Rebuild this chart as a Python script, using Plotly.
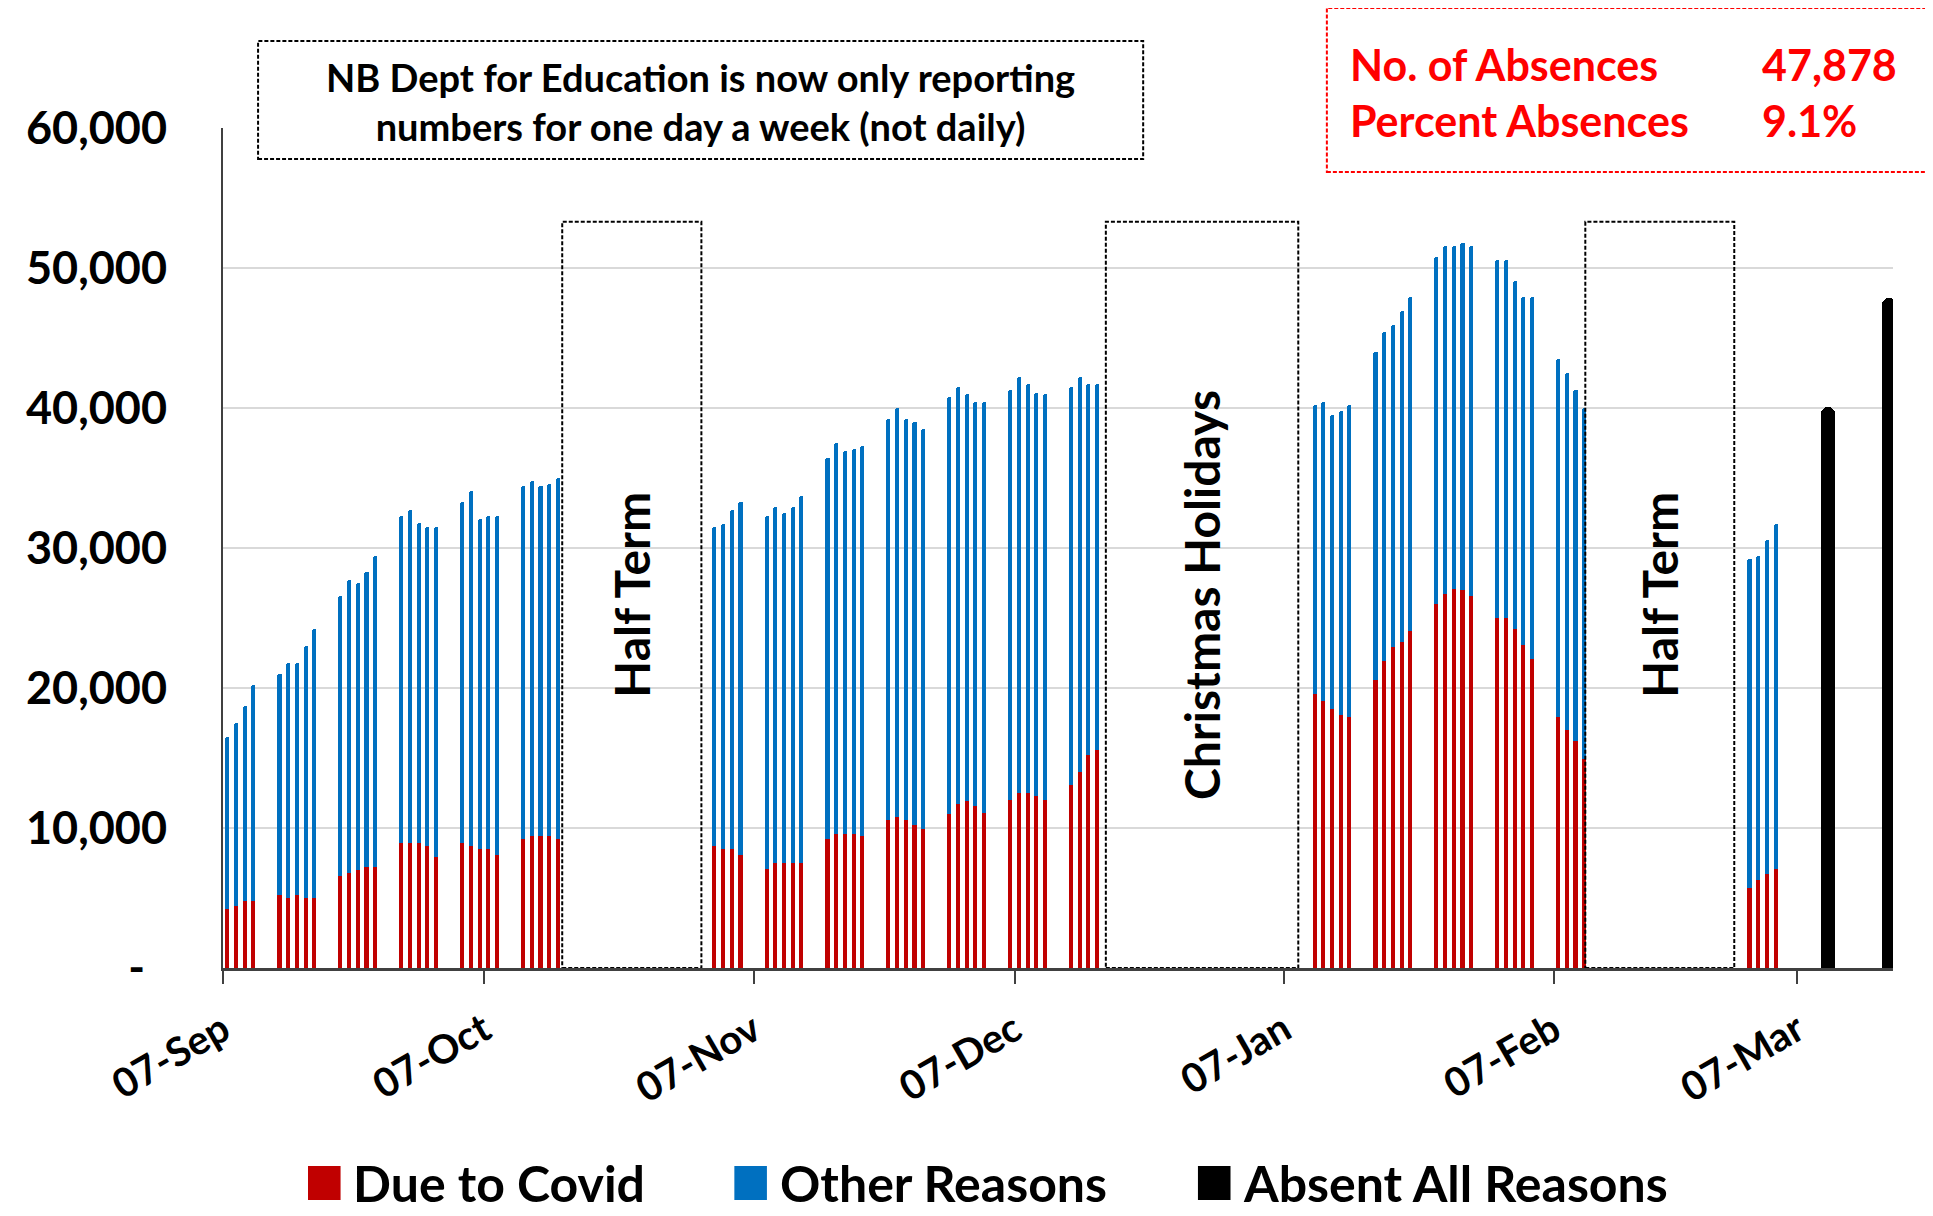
import pandas as pd
import plotly.graph_objects as go

########## Date ##########

# prima zi raportata din fiecare saptamana de scoala si cate zile s-au raportat
WEEK_STARTS = ["2021-09-07", "2021-09-13", "2021-09-20", "2021-09-27", "2021-10-04", "2021-10-11",
               "2021-11-02", "2021-11-08", "2021-11-15", "2021-11-22", "2021-11-29", "2021-12-06",
               "2021-12-13", "2022-01-10", "2022-01-17", "2022-01-24", "2022-01-31", "2022-02-07",
               "2022-03-01"]
WEEK_DAYS = [4, 5, 5, 5, 5, 5, 4, 5, 5, 5, 5, 5, 4, 5, 5, 5, 5, 4, 4]

DUE_TO_COVID = [4200, 4400, 4800, 4800,
                5200, 5000, 5200, 5000, 5000,
                6600, 6800, 7000, 7200, 7200,
                8900, 8900, 8900, 8700, 7900,
                8900, 8700, 8500, 8500, 8100,
                9200, 9400, 9400, 9400, 9200,
                8700, 8500, 8500, 8100,
                7100, 7500, 7500, 7500, 7500,
                9200, 9600, 9600, 9600, 9400,
                10600, 10800, 10600, 10200, 9900,
                11000, 11700, 11900, 11600, 11100,
                12000, 12500, 12500, 12300, 12000,
                13100, 14000, 15200, 15600,
                19600, 19100, 18500, 18100, 17900,
                20600, 21900, 22900, 23300, 24100,
                26000, 26700, 27100, 27000, 26600,
                25000, 25000, 24200, 23100, 22100,
                17900, 17000, 16200, 14900,
                5700, 6300, 6700, 7100]

OTHER_REASONS = [12300, 13100, 13900, 15400,
                 15800, 16800, 16600, 18000, 19200,
                 20000, 20900, 20500, 21100, 22200,
                 23400, 23800, 22900, 22800, 23600,
                 24400, 25400, 23600, 23800, 24200,
                 25200, 25400, 25000, 25200, 25800,
                 22800, 23200, 24200, 25200,
                 25200, 25400, 25000, 25400, 26200,
                 27200, 27900, 27300, 27500, 27900,
                 28600, 29200, 28600, 28800, 28600,
                 29800, 29800, 29100, 28800, 29300,
                 29300, 29700, 29200, 28800, 29000,
                 28400, 28200, 26500, 26100,
                 20600, 21300, 21000, 21700, 22300,
                 23400, 23500, 23000, 23600, 23800,
                 24800, 24900, 24500, 24800, 25000,
                 25600, 25600, 24900, 24800, 25800,
                 25600, 25500, 25100, 25100,
                 23500, 23100, 23900, 24600]

# raportare saptamanala (o zi pe saptamana)
WEEKLY_DATES = ["2022-03-10", "2022-03-17"]
ABSENT_ALL = [40100, 47878]

TICK_DATES = ["2021-09-07", "2021-10-07", "2021-11-07", "2021-12-07",
              "2022-01-07", "2022-02-07", "2022-03-07"]
Y_TICKS = [0, 10000, 20000, 30000, 40000, 50000, 60000]
Y_LABELS = ["-\u00a0\u00a0", "10,000", "20,000", "30,000", "40,000", "50,000", "60,000"]

HOLIDAYS = [("Half Term", "2021-10-16 00:00", "2021-11-01 00:00"),
            ("Christmas Holidays", "2021-12-17 12:00", "2022-01-08 15:00"),
            ("Half Term", "2022-02-10 15:00", "2022-02-27 18:00")]
HOLIDAY_TOP = 53300

NOTE = "NB Dept for Education is now only reporting<br>numbers for one day a week (not daily)"
STAT_NAMES = "No. of Absences<br>Percent Absences"
STAT_VALUES = "47,878<br>9.1%"

LEGEND = [("Due to Covid", "#C00000"), ("Other Reasons", "#0070C0"), ("Absent All Reasons", "#000000")]

########## Grafic ##########

DAY = 86400000  # ms
FONT = "Lato"

days = [d for s, n in zip(WEEK_STARTS, WEEK_DAYS) for d in pd.bdate_range(s, periods=n)]

fig = go.Figure()
fig.add_trace(go.Bar(
    x=days, y=DUE_TO_COVID, name="Due to Covid",
    marker=dict(color="#C00000", line_width=0),
    width=0.47 * DAY, xperiod=DAY, xperiodalignment="middle", showlegend=False,
    hovertemplate='%{x|%d-%b}: %{y:,}<extra>Due to Covid</extra>'
))
fig.add_trace(go.Bar(
    x=days, y=OTHER_REASONS, name="Other Reasons",
    marker=dict(color="#0070C0", line_width=0),
    width=0.47 * DAY, xperiod=DAY, xperiodalignment="middle", showlegend=False,
    hovertemplate='%{x|%d-%b}: %{y:,}<extra>Other Reasons</extra>'
))
fig.add_trace(go.Bar(
    x=WEEKLY_DATES, y=ABSENT_ALL, name="Absent All Reasons",
    marker=dict(color="#000000", line_width=0, cornerradius=8),
    width=1.6 * DAY, xperiod=DAY, xperiodalignment="middle", showlegend=False,
    hovertemplate='%{x|%d-%b}: %{y:,}<extra>Absent All Reasons</extra>'
))

shapes = []
annotations = []

# perioadele de vacanta
for label, start, end in HOLIDAYS:
    shapes.append(dict(type="rect", xref="x", yref="y", x0=start, x1=end, y0=0, y1=HOLIDAY_TOP,
                       line=dict(color="black", width=2, dash="4px,2px"), fillcolor="rgba(0,0,0,0)"))
    mid = pd.Timestamp(start) + (pd.Timestamp(end) - pd.Timestamp(start)) / 2
    annotations.append(dict(x=mid, y=HOLIDAY_TOP / 2, xref="x", yref="y", text=label, textangle=-90,
                            showarrow=False, font=dict(family=FONT, size=48, color="black", weight=700)))

# caseta cu nota
shapes.append(dict(type="rect", xref="paper", yref="paper", x0=0.021, x1=0.551, y0=0.963, y1=1.1036,
                   line=dict(color="black", width=2, dash="4px,2px"), fillcolor="white", layer="above"))
annotations.append(dict(x=0.286, y=1.032, xref="paper", yref="paper", text=NOTE, showarrow=False,
                        xanchor="center", yanchor="middle",
                        font=dict(family=FONT, size=38, color="black", weight=700)))

# caseta rosie cu totalurile
shapes.append(dict(type="rect", xref="paper", yref="paper", x0=0.661, x1=1.05, y0=0.9476, y1=1.143,
                   line=dict(color="red", width=2, dash="4px,2px"), fillcolor="white", layer="above"))
annotations.append(dict(x=0.6735, y=1.042, xref="paper", yref="paper", text=STAT_NAMES, showarrow=False,
                        xanchor="left", yanchor="middle", align="left",
                        font=dict(family=FONT, size=43, color="red", weight=700)))
annotations.append(dict(x=0.9206, y=1.042, xref="paper", yref="paper", text=STAT_VALUES, showarrow=False,
                        xanchor="left", yanchor="middle", align="left",
                        font=dict(family=FONT, size=43, color="red", weight=700)))

# legenda desenata manual (patrate mari ca in original)
legend_x = [0.0509, 0.3062, 0.5838]
for (label, color), lx in zip(LEGEND, legend_x):
    shapes.append(dict(type="rect", xref="paper", yref="paper", x0=lx, x1=lx + 0.0195,
                       y0=-0.2762, y1=-0.2357, line_width=0, fillcolor=color))
    annotations.append(dict(x=lx + 0.026, y=-0.2562, xref="paper", yref="paper", text=label,
                            showarrow=False, xanchor="left", yanchor="middle",
                            font=dict(family=FONT, size=50, color="black", weight=700)))

# pagina are 8px margine implicita, asa ca figura e cu 8px mai mica
fig.update_layout(
    width=1925, height=1208,
    margin=dict(l=215, r=40, t=120, b=248),
    barmode="stack",
    bargap=0,
    plot_bgcolor="white",
    paper_bgcolor="white",
    font=dict(family=FONT, color="black"),
    shapes=shapes,
    annotations=annotations,
    xaxis=dict(
        type="date",
        range=["2021-09-07", "2022-03-18"],
        tickvals=TICK_DATES,
        tickformat="%d-%b",
        tickangle=-30,
        ticks="outside", ticklen=13, tickwidth=2, tickcolor="#404040",
        showline=True, linecolor="#404040", linewidth=3,
        showgrid=False, zeroline=False,
        tickfont=dict(family=FONT, size=40, color="black", weight=700),
        ticklabelstandoff=7,
    ),
    yaxis=dict(
        range=[0, 60000],
        tickvals=Y_TICKS, ticktext=Y_LABELS,
        showgrid=True, gridcolor="#d9d9d9", gridwidth=2,
        showline=True, linecolor="#404040", linewidth=2,
        ticks="", zeroline=False,
        tickfont=dict(family=FONT, size=45, color="black", weight=700),
        ticklabelstandoff=45,
    ),
    showlegend=False,
)

fig.write_html("out.html")
